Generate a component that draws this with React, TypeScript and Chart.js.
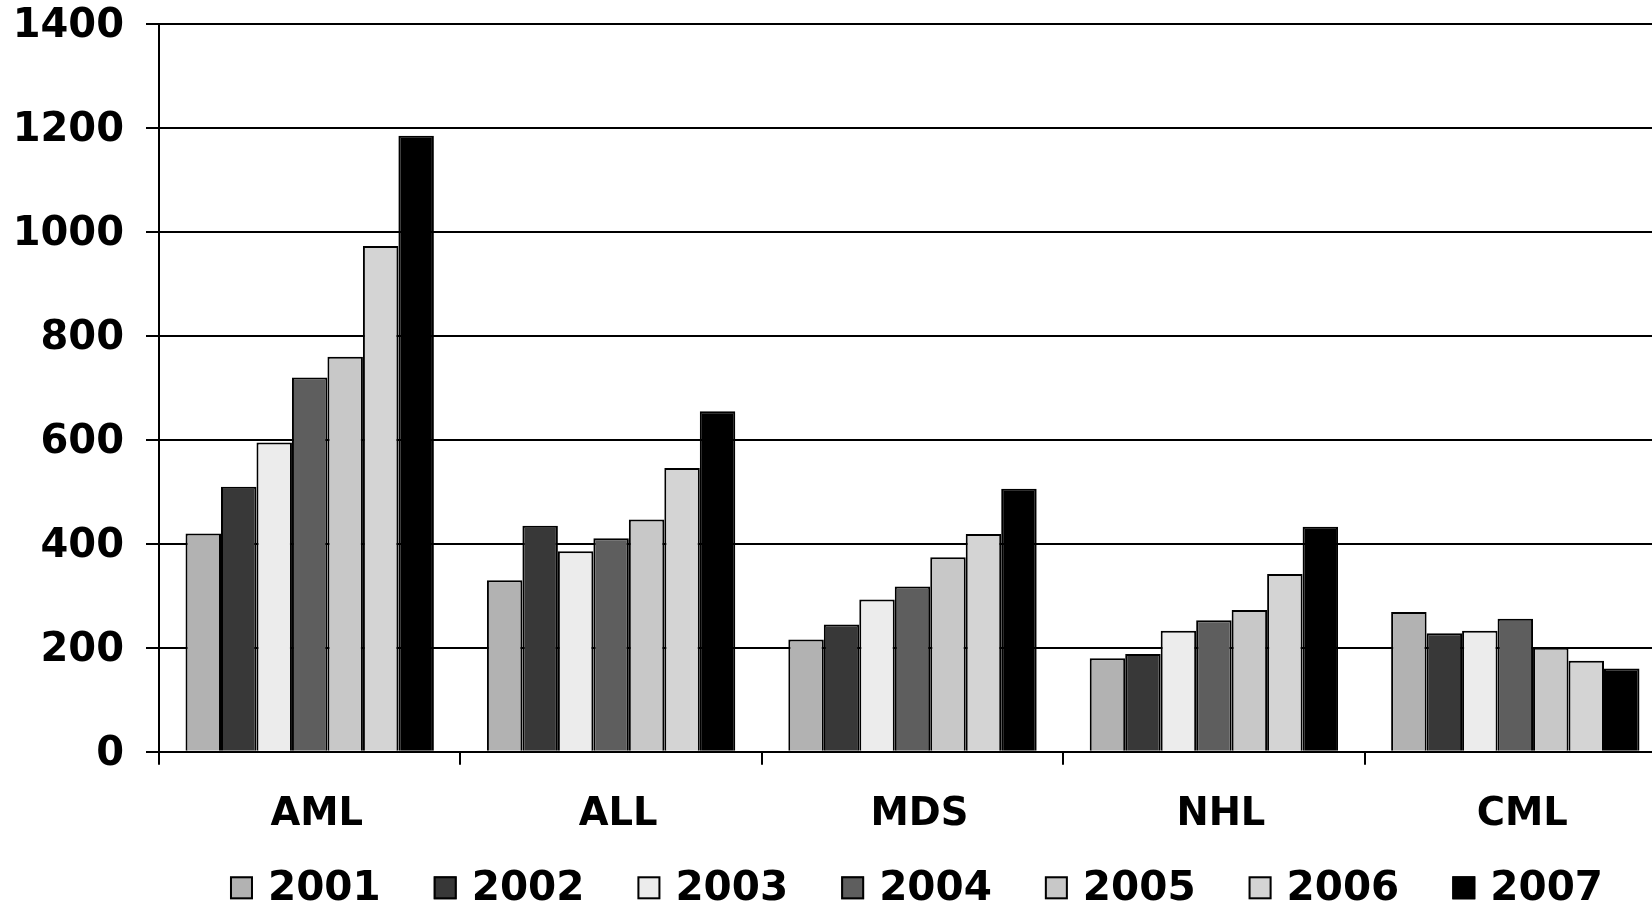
import React, { useEffect, useRef } from "react";
import { Chart, registerables } from "chart.js";

Chart.register(...registerables);

// Diagnoses per year, grouped by disease
const categories = ["AML", "ALL", "MDS", "NHL", "CML"];
const years = ["2001", "2002", "2003", "2004", "2005", "2006", "2007"];

const v2001 = [420, 330, 216, 180, 269];
const v2002 = [510, 435, 245, 188, 228];
const v2003 = [595, 386, 293, 233, 233];
const v2004 = [720, 411, 318, 253, 256];
const v2005 = [760, 447, 374, 273, 200];
const v2006 = [973, 546, 419, 342, 175];
const v2007 = [1185, 655, 506, 433, 160];

const seriesValues = [v2001, v2002, v2003, v2004, v2005, v2006, v2007];
const seriesColors = ["#b2b2b2", "#383838", "#ececec", "#5e5e5e", "#c8c8c8", "#d4d4d4", "#000000"];

const yTicks = [0, 200, 400, 600, 800, 1000, 1200, 1400];

const FONT = "'DejaVu Sans', Verdana, sans-serif";

// Legend row drawn under the category labels, centred on the plot area
const legendRow = {
  id: "legendRow",
  afterDraw(chart: any) {
    const { ctx, chartArea } = chart;
    const box = 23;
    const gap = 15;
    const spacing = 53;
    ctx.save();
    ctx.font = `bold 40.5px ${FONT}`;
    ctx.textBaseline = "middle";
    ctx.textAlign = "left";
    const items = chart.data.datasets.map((ds: any) => ({
      label: ds.label as string,
      color: ds.backgroundColor as string,
      w: box + gap + ctx.measureText(ds.label).width,
    }));
    const total = items.reduce((s: number, it: any) => s + it.w, 0) + spacing * (items.length - 1);
    let x = (chartArea.left + chartArea.right) / 2 - total / 2 + 4;
    const cy = chartArea.bottom + 136;
    for (const it of items) {
      ctx.fillStyle = it.color;
      ctx.fillRect(x, cy - box / 2, box, box);
      ctx.lineWidth = 2;
      ctx.strokeStyle = "#000000";
      ctx.strokeRect(x + 1, cy - box / 2 + 1, box - 2, box - 2);
      ctx.fillStyle = "#000000";
      ctx.fillText(it.label, x + box + gap, cy + 2);
      x += it.w + spacing;
    }
    ctx.restore();
  },
};

export default function App() {
  const canvasRef = useRef<HTMLCanvasElement | null>(null);

  useEffect(() => {
    const canvas = canvasRef.current;
    if (!canvas) return;
    const chart = new Chart(canvas, {
      type: "bar",
      data: {
        labels: categories,
        datasets: years.map((y, i) => ({
          label: y,
          data: seriesValues[i],
          backgroundColor: seriesColors[i],
          borderColor: "#000000",
          borderWidth: 2,
          categoryPercentage: 0.824,
          barPercentage: 1.0,
        })),
      },
      options: {
        responsive: false,
        animation: false,
        devicePixelRatio: 1,
        layout: { padding: { left: 0, right: 14, top: 24, bottom: 39 } },
        plugins: {
          tooltip: { enabled: false },
          legend: { display: false },
        },
        scales: {
          x: {
            offset: true,
            grid: {
              offset: true,
              drawOnChartArea: false,
              drawTicks: true,
              tickLength: 13,
              color: "#000000",
              lineWidth: 2,
            },
            border: { display: true, color: "#000000", width: 2 },
            ticks: {
              color: "#000000",
              padding: 27,
              labelOffset: 7,
              font: { family: FONT, size: 38.5, weight: "bold" },
            },
          },
          y: {
            min: 0,
            max: 1400,
            afterBuildTicks: (scale: any) => {
              scale.ticks = yTicks.map((v) => ({ value: v }));
            },
            grid: {
              drawTicks: true,
              tickLength: 13,
              color: "#000000",
              lineWidth: 2,
            },
            border: { display: true, color: "#000000", width: 2 },
            ticks: {
              color: "#000000",
              padding: 22,
              labelOffset: 2.5,
              font: { family: FONT, size: 40, weight: "bold" },
              callback: (value: any) => String(value),
            },
            afterFit: (scale: any) => {
              scale.width = 159;
              scale.paddingTop = 0;
              scale.paddingBottom = 0;
            },
          },
        },
      },
      plugins: [legendRow],
    });
    return () => chart.destroy();
  }, []);

  return (
    <div
      style={{
        position: "fixed",
        left: 0,
        top: 0,
        width: 1652,
        height: 904,
        overflow: "hidden",
        background: "#ffffff",
      }}
    >
      <canvas
        ref={canvasRef}
        width={1680}
        height={904}
        style={{ position: "absolute", left: 0, top: 0, display: "block" }}
      />
    </div>
  );
}
